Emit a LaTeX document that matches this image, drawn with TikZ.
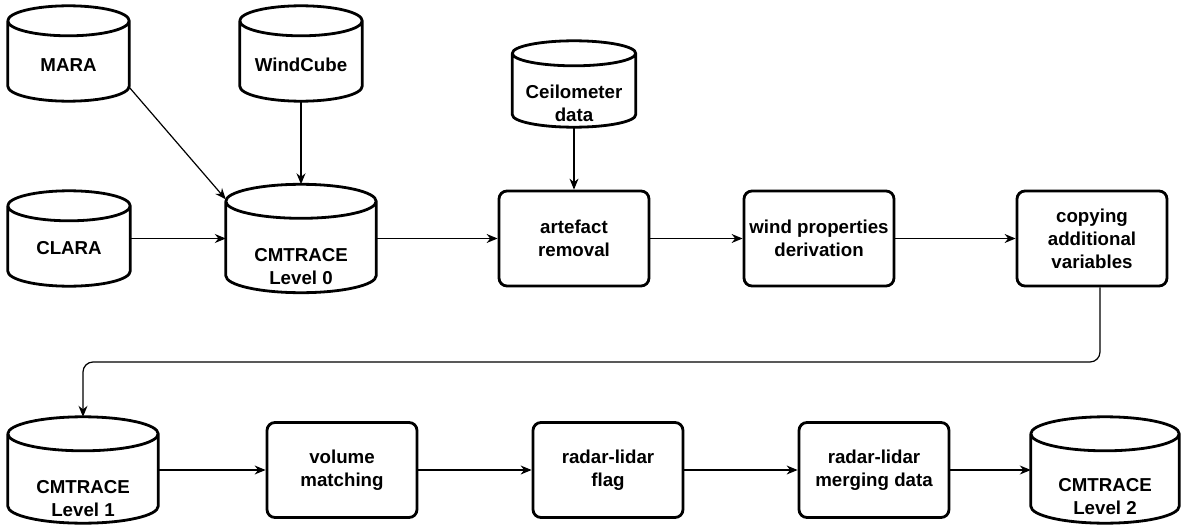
\documentclass[tikz,border=0pt]{standalone}
\usepackage{fontspec}
\setmainfont{Liberation Sans}
\usetikzlibrary{arrows.meta,calc}

\begin{document}
\begin{tikzpicture}
[x=1pt,y=-1pt,
  font=\fontsize{18.7}{23}\selectfont\bfseries,
  boxdecorate/.style={shape=rectangle,rounded corners=8pt,draw,line width=2.8pt,
    minimum width=150pt,minimum height=95pt,align=center,inner sep=2pt},%
  drumdecorate/.style n args={3}{shape=rectangle,inner sep=0pt,
    minimum width=#1,minimum height=#2,
    execute at begin node={\begin{minipage}[c][#3][b]{#1}\centering},
    execute at end node={\end{minipage}}},%
  drumline/.style={line width=2.8pt,line join=round},%
  linedecorate/.style={-{Stealth[length=11pt,width=9pt]},line width=1.2pt}]
\useasboundingbox (0,0) rectangle (1184,527);
%% data stores (cylinders)
\foreach \nodename/\cx/\cy/\dw/\dh/\tb/\ry/\txt in {
  mara/68.5/53.5/121/95/37/15/MARA,
  windcube/301/53.5/122/95/37/15/WindCube,
  clara/69/238.5/122/95/33/15/CLARA,
  lvl0/301/238.5/150/108/93/17/{CMTRACE\\Level 0},
  ceil/574/84/123/86/76/12.5/{Ceilometer\\data},
  lvl1/83/470/150/106/94/17/{CMTRACE\\Level 1},
  lvl2/1105/470/148/106/90/17/{CMTRACE\\Level 2}}
{
  \node (\nodename) at (\cx,\cy) [drumdecorate={\dw pt}{\dh pt}{\tb pt}] {\txt};
  \draw[drumline] let \p1=(\nodename.north west), \p2=(\nodename.south east),
    \n1={(\x2-\x1)/2} in
    (\x1,\y1-\ry pt) -- (\x1,\y2+\ry pt)
    arc[start angle=180,end angle=360,x radius=\n1,y radius=\ry pt]
    -- (\x2,\y1-\ry pt)
    arc[start angle=0,end angle=180,x radius=\n1,y radius=\ry pt]
    arc[start angle=180,end angle=360,x radius=\n1,y radius=\ry pt];
}
%% processing steps
\foreach \nodename/\cx/\cy/\txt in {
  artefact/574/238.5/{artefact\\removal},
  wind/819/238.5/{wind properties\\derivation},
  copyvar/1092/238.5/{copying\\additional\\variables},
  volume/342/470/{volume\\matching},
  flag/608/470/{radar-lidar\\flag},
  merge/874/470/{radar-lidar\\merging data}}
{
  \node (\nodename) at (\cx,\cy) [boxdecorate] {\txt};
}
%% connectors
\path
\foreach \startnode/\endnode in {windcube/lvl0, clara/lvl0, lvl0/artefact,
  ceil/artefact, artefact/wind, wind/copyvar, lvl1/volume, volume/flag,
  flag/merge, merge/lvl2}
{
  (\startnode) edge[linedecorate] (\endnode)
};
\draw[linedecorate] ([yshift=14pt]mara.south east) -- ([yshift=-15pt]lvl0.north west);
\coordinate (knee) at (1100,362);
\draw[linedecorate,rounded corners=10pt] (copyvar.south -| knee) -- (knee) -| (lvl1.north);
\end{tikzpicture}
\end{document}
